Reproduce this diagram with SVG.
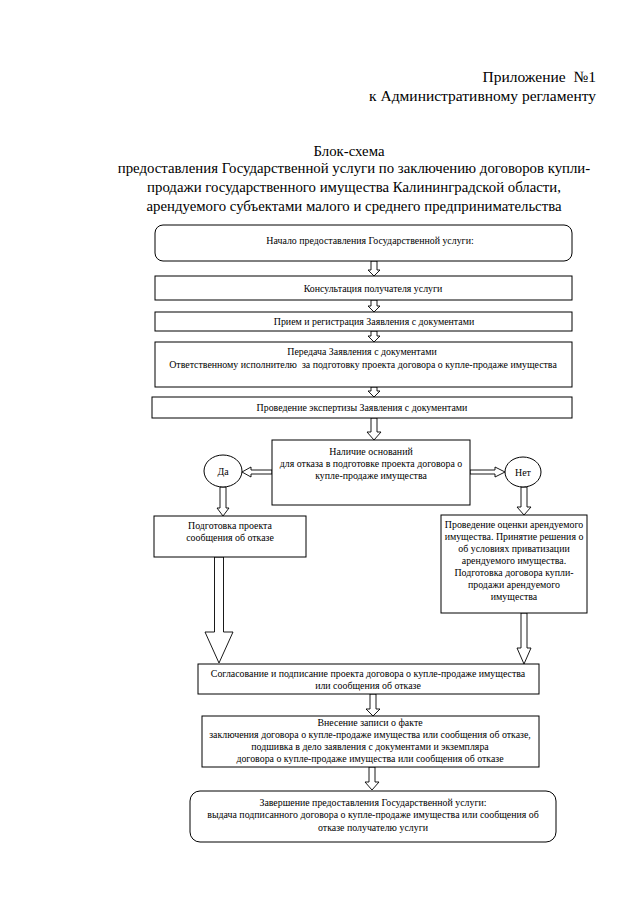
<svg xmlns="http://www.w3.org/2000/svg" width="640" height="905" viewBox="0 0 640 905">
<style>
.bg{fill:#fff}
.box{fill:#fff;stroke:#000;stroke-width:1}
.arr{fill:#fff;stroke:#000;stroke-width:0.9}
.h{font-family:"Liberation Serif","Times New Roman",serif;font-size:15.5px;fill:#000}
.ti{font-family:"Liberation Serif","Times New Roman",serif;font-size:14.8px;fill:#000;text-anchor:middle}
.t{font-family:"Liberation Serif","Times New Roman",serif;font-size:9.9px;fill:#000;text-anchor:middle}
.r{text-anchor:end}
</style>
<rect class="bg" x="0" y="0" width="640" height="905"/>
<g id="header">
<text class="h r" x="596" y="82" xml:space="preserve">Приложение  №1</text>
<text class="h r" x="596" y="101">к Административному регламенту</text>
<text class="ti" x="349" y="156">Блок-схема</text>
<text class="ti" x="354" y="173">предоставления Государственной услуги по заключению договоров купли-</text>
<text class="ti" x="354" y="192">продажи государственного имущества Калининградской области,</text>
<text class="ti" x="354" y="211">арендуемого субъектами малого и среднего предпринимательства</text>
</g>
<g id="connectors">
<polygon class="arr" points="371,261 377,261 377,270 380,270 374,276 368,270 371,270"/>
<polygon class="arr" points="371,300 377,300 377,306 380,306 374,312 368,306 371,306"/>
<polygon class="arr" points="371,331 377,331 377,336 380,336 374,342 368,336 371,336"/>
<polygon class="arr" points="371,387 377,387 377,391 380,391 374,397 368,391 371,391"/>
<polygon class="arr" points="371,418 377,418 377,432 381,432 374,440 367,432 371,432"/>
<polygon class="arr" points="272,470 251,470 251,467 242,472 251,477 251,474 272,474"/>
<polygon class="arr" points="470,470 495,470 495,467 505,472 495,477 495,474 470,474"/>
<polygon class="arr" points="220,487 226,487 226,508 229,508 223,516 217,508 220,508"/>
<polygon class="arr" points="521,487 527,487 527,507 531,507 524,515 517,507 521,507"/>
<polygon class="arr" points="214.5,557 223.5,557 223.5,632 233,632 219,663 205,632 214.5,632"/>
<polygon class="arr" points="521,613 527,613 527,648 531,648 524,664 517,648 521,648"/>
<polygon class="arr" points="370,694 376,694 376,709 380,709 373,716 366,709 370,709"/>
<polygon class="arr" points="369,767 375,767 375,782 379,782 372,790 365,782 369,782"/>
</g>
<g id="n1">
<rect class="box" x="155" y="225" width="417" height="36" rx="8"/>
<text class="t" x="370" y="244">Начало предоставления Государственной услуги:</text>
</g>
<g id="n2">
<rect class="box" x="155" y="276" width="417" height="24"/>
<text class="t" x="373" y="292">Консультация получателя услуги</text>
</g>
<g id="n3">
<rect class="box" x="155" y="312" width="417" height="19"/>
<text class="t" x="374" y="325">Прием и регистрация Заявления с документами</text>
</g>
<g id="n4">
<rect class="box" x="155" y="342" width="417" height="45"/>
<text class="t" x="362" y="355">Передача Заявления с документами</text>
<text class="t" x="363" y="368" xml:space="preserve">Ответственному исполнителю  за подготовку проекта договора о купле-продаже имущества</text>
</g>
<g id="n5">
<rect class="box" x="152" y="397" width="420" height="21"/>
<text class="t" x="362" y="411">Проведение экспертизы Заявления с документами</text>
</g>
<g id="decision">
<rect class="box" x="272" y="440" width="198" height="65"/>
<text class="t" x="371" y="455">Наличие оснований</text>
<text class="t" x="371" y="467">для отказа в подготовке проекта договора о</text>
<text class="t" x="371" y="479">купле-продаже имущества</text>
</g>
<g id="yes">
<ellipse class="box" cx="223" cy="471" rx="19" ry="16"/>
<text class="t" x="223" y="475">Да</text>
</g>
<g id="no">
<ellipse class="box" cx="523" cy="472" rx="18" ry="15"/>
<text class="t" x="523" y="476">Нет</text>
</g>
<g id="refusal">
<rect class="box" x="154" y="516" width="152" height="41"/>
<text class="t" x="230" y="529">Подготовка проекта</text>
<text class="t" x="230" y="541">сообщения об отказе</text>
</g>
<g id="evaluation">
<rect class="box" x="441" y="515" width="146" height="98"/>
<text class="t" x="514" y="528">Проведение оценки арендуемого</text>
<text class="t" x="514" y="540">имущества. Принятие решения о</text>
<text class="t" x="514" y="552">об условиях приватизации</text>
<text class="t" x="514" y="564">арендуемого имущества.</text>
<text class="t" x="514" y="576">Подготовка договора купли-</text>
<text class="t" x="514" y="588">продажи арендуемого</text>
<text class="t" x="514" y="600">имущества</text>
</g>
<g id="approval">
<rect class="box" x="198" y="664" width="341" height="30"/>
<text class="t" x="368" y="677">Согласование и подписание проекта договора о купле-продаже имущества</text>
<text class="t" x="368" y="689">или сообщения об отказе</text>
</g>
<g id="record">
<rect class="box" x="202" y="716" width="337" height="51"/>
<text class="t" x="370" y="726">Внесение записи о факте</text>
<text class="t" x="370" y="738">заключения договора о купле-продаже имущества или сообщения об отказе,</text>
<text class="t" x="370" y="750">подшивка в дело заявления с документами и экземпляра</text>
<text class="t" x="370" y="762">договора о купле-продаже имущества или сообщения об отказе</text>
</g>
<g id="end">
<rect class="box" x="190" y="791" width="366" height="51" rx="10"/>
<text class="t" x="373" y="806">Завершение предоставления Государственной услуги:</text>
<text class="t" x="373" y="818">выдача подписанного договора о купле-продаже имущества или сообщения об</text>
<text class="t" x="373" y="831">отказе получателю услуги</text>
</g>
</svg>
